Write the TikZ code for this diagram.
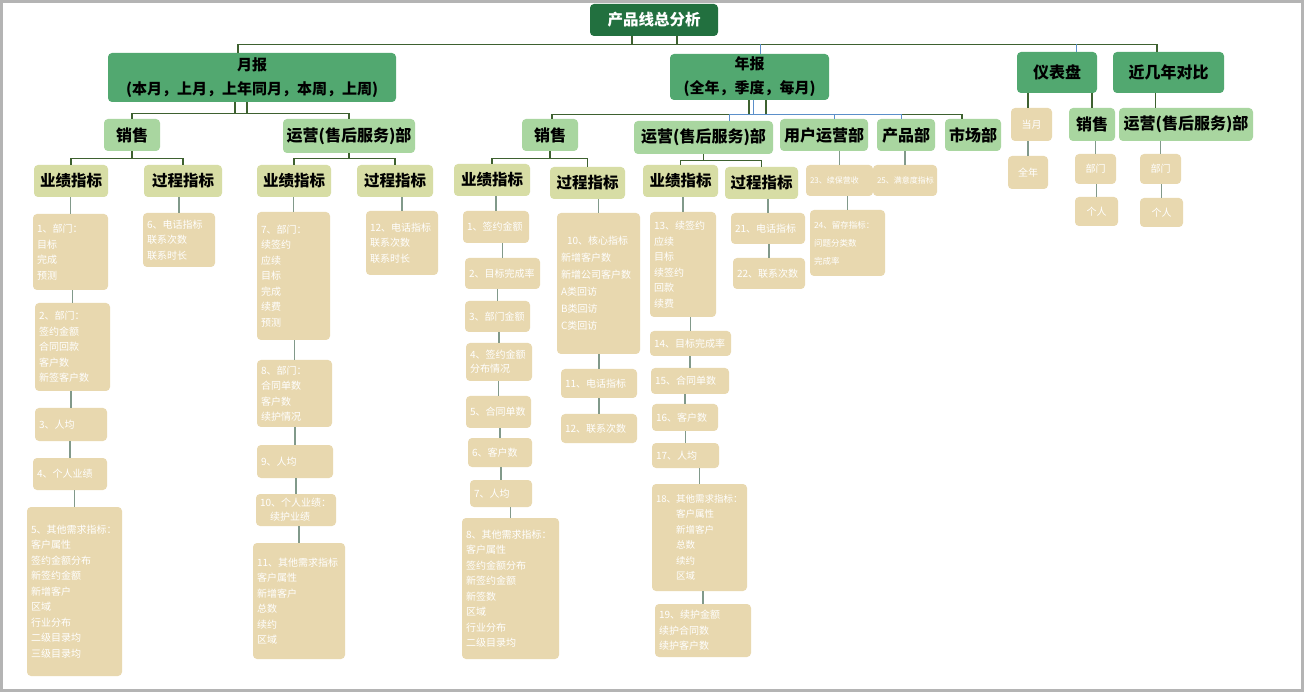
\documentclass[tikz,border=0pt]{standalone}
\usepackage{fontspec}
\setmainfont{Noto Sans CJK SC}
\usetikzlibrary{calc}
\definecolor{rootc}{HTML}{22703F}
\definecolor{l1c}{HTML}{52A870}
\definecolor{l2c}{HTML}{A9D6A0}
\definecolor{l3c}{HTML}{D7DDA5}
\definecolor{leafc}{HTML}{E8D8AF}
\definecolor{treec}{HTML}{3E6130}
\definecolor{chainc}{HTML}{81998A}
\definecolor{bluec}{HTML}{5B8FC9}
\definecolor{framec}{HTML}{B4B4B4}
\tikzset{
  basebox/.style={rectangle, rounded corners=4pt, inner sep=0pt, align=center},
  rootbox/.style={basebox, fill=rootc, text=white, font=\bfseries\fontsize{15.5}{18}\selectfont},
  l1box/.style={basebox, fill=l1c, text=black, font=\bfseries\fontsize{15}{24}\selectfont},
  l2box/.style={basebox, fill=l2c, text=black, font=\bfseries\fontsize{16}{18}\selectfont},
  l3box/.style={basebox, fill=l3c, text=black, font=\bfseries\fontsize{15.5}{18}\selectfont},
  leaf/.style={rectangle, rounded corners=4pt, fill=leafc, text=white, align=left,
    inner xsep=4pt, inner ysep=2pt, font=\fontsize{10}{15.5}\selectfont},
  smallleaf/.style={basebox, fill=leafc, text=white, font=\fontsize{10}{12}\selectfont},
  tree/.style={draw=treec, line width=1.2pt},
  bluetree/.style={draw=bluec, line width=1pt},
  chain/.style={draw=chainc, line width=1.8pt}
}
\newcommand\bx[7]{\node[#2, minimum width={#5-#3}, minimum height={#6-#4}] (#1) at ({(#3+#5)/2},{(#4+#6)/2}) {#7};}
\newcommand\lf[7]{\pgfmathsetmacro\lfw{#4-#2-8}\node[leaf, #7, text width=\lfw pt, minimum height={#5-#3}] (#1) at ({(#2+#4)/2},{(#3+#5)/2}) {#6};}
\begin{document}
\begin{tikzpicture}[x=1pt, y=-1pt]
\useasboundingbox (0,0) rectangle (1304,692);
\draw[framec, fill=white, line width=3pt] (1.5,1.5) rectangle (1302.5,690.5);

% root and level 1
\bx{root}{rootbox}{590}{4}{718}{36}{产品线总分析}
\bx{mon}{l1box}{108}{53}{396}{102}{月报\\(本月，上月，上年同月，本周，上周)}
\bx{yr}{l1box}{670}{54}{829}{100}{年报\\(全年，季度，每月)}
\bx{dash}{l1box}{1017}{52}{1097}{93}{\fontsize{16}{18}\selectfont 仪表盘}
\bx{cmp}{l1box}{1113}{52}{1224}{93}{\fontsize{16}{18}\selectfont 近几年对比}

% level 2
\bx{msales}{l2box}{104}{119}{160}{151}{销售}
\bx{mops}{l2box}{283}{119}{415}{153}{运营(售后服务)部}
\bx{ysales}{l2box}{522}{119}{578}{151}{销售}
\bx{yops}{l2box}{634}{121}{773}{154}{运营(售后服务)部}
\bx{yuser}{l2box}{780}{119}{868}{151}{用户运营部}
\bx{yprod}{l2box}{877}{119}{935}{151}{产品部}
\bx{ymkt}{l2box}{945}{119}{1001}{151}{市场部}
\bx{dsales}{l2box}{1069}{108}{1115}{141}{销售}
\bx{dops}{l2box}{1119}{108}{1253}{141}{运营(售后服务)部}

% level 3
\bx{ms1}{l3box}{34}{165}{108}{197}{业绩指标}
\bx{ms2}{l3box}{144}{165}{222}{197}{过程指标}
\bx{mo1}{l3box}{257}{165}{331}{197}{业绩指标}
\bx{mo2}{l3box}{357}{165}{433}{197}{过程指标}
\bx{ys1}{l3box}{454}{164}{530}{196}{业绩指标}
\bx{ys2}{l3box}{550}{167}{625}{199}{过程指标}
\bx{yo1}{l3box}{643}{165}{718}{197}{业绩指标}
\bx{yo2}{l3box}{725}{167}{798}{199}{过程指标}

% leaves: month / sales
\lf{a1}{33}{214}{108}{290}{1、部门：\\目标\\完成\\预测}{}
\lf{a2}{35}{303}{110}{391}{2、部门：\\签约金额\\合同回款\\客户数\\新签客户数}{}
\lf{a3}{35}{408}{107}{441}{3、人均}{}
\lf{a4}{33}{458}{107}{490}{4、个人业绩}{}
\lf{a5}{27}{507}{122}{676}{5、其他需求指标：\\客户属性\\签约金额分布\\新签约金额\\新增客户\\区域\\行业分布\\二级目录均\\三级目录均}{}
\lf{a6}{143}{213}{215}{267}{6、电话指标\\联系次数\\联系时长}{}
% month / ops
\lf{b7}{257}{212}{330}{340}{7、部门：\\续签约\\应续\\目标\\完成\\续费\\预测}{}
\lf{b8}{257}{360}{332}{427}{8、部门：\\合同单数\\客户数\\续护情况}{}
\lf{b9}{257}{445}{333}{478}{9、人均}{}
\lf{b10}{256}{494}{336}{526}{10、个人业绩：\\\hspace*{10pt}续护业绩}{font=\fontsize{10}{14}\selectfont}
\lf{b11}{253}{543}{345}{659}{11、其他需求指标\\客户属性\\新增客户\\总数\\续约\\区域}{}
\lf{b12}{366}{211}{438}{275}{12、电话指标\\联系次数\\联系时长}{}
% year / sales
\lf{c1}{463}{211}{529}{243}{1、签约金额}{}
\lf{c2}{465}{258}{540}{289}{2、目标完成率}{}
\lf{c3}{465}{301}{530}{332}{3、部门金额}{}
\lf{c4}{466}{343}{532}{381}{4、签约金额\\分布情况}{font=\fontsize{10}{14}\selectfont}
\lf{c5}{466}{396}{531}{428}{5、合同单数}{}
\lf{c6}{468}{438}{532}{467}{6、客户数}{}
\lf{c7}{470}{480}{532}{507}{7、人均}{}
\lf{c8}{462}{518}{559}{659}{8、其他需求指标：\\客户属性\\签约金额分布\\新签约金额\\新签数\\区域\\行业分布\\二级目录均}{}
\lf{c10}{557}{213}{640}{354}{\hspace*{6pt}10、核心指标\\新增客户数\\新增公司客户数\\A类回访\\B类回访\\C类回访}{font=\fontsize{10}{17}\selectfont}
\lf{c11}{561}{369}{637}{398}{11、电话指标}{}
\lf{c12}{561}{414}{637}{443}{12、联系次数}{}
% year / ops
\lf{d13}{650}{212}{716}{317}{13、续签约\\应续\\目标\\续签约\\回款\\续费}{}
\lf{d14}{650}{331}{731}{356}{14、目标完成率}{}
\lf{d15}{651}{368}{729}{394}{15、合同单数}{}
\lf{d16}{652}{404}{718}{431}{16、客户数}{}
\lf{d17}{652}{443}{719}{468}{17、人均}{}
\lf{d18}{652}{484}{747}{591}{18、其他需求指标：\\\hspace*{20pt}客户属性\\\hspace*{20pt}新增客户\\\hspace*{20pt}总数\\\hspace*{20pt}续约\\\hspace*{20pt}区域}{font=\fontsize{9.5}{15.5}\selectfont}
\lf{d19}{655}{604}{751}{657}{19、续护金额\\续护合同数\\续护客户数}{}
\lf{d21}{731}{213}{805}{244}{21、电话指标}{}
\lf{d22}{733}{258}{805}{289}{22、联系次数}{}
% user ops / product
\lf{e23}{806}{165}{873}{196}{23、续保营收}{font=\fontsize{8}{12}\selectfont}
\lf{e24}{810}{210}{885}{276}{24、留存指标：\\问题分类数\\完成率}{font=\fontsize{8.5}{18}\selectfont}
\lf{e25}{873}{165}{937}{196}{25、满意度指标}{font=\fontsize{8}{12}\selectfont}
% dashboard
\bx{f1}{smallleaf}{1011}{108}{1052}{141}{当月}
\bx{f2}{smallleaf}{1008}{156}{1048}{189}{全年}
\bx{g1}{smallleaf}{1075}{154}{1116}{184}{部门}
\bx{g2}{smallleaf}{1075}{197}{1118}{226}{个人}
\bx{h1}{smallleaf}{1140}{154}{1181}{184}{部门}
\bx{h2}{smallleaf}{1140}{198}{1183}{227}{个人}

% tree connectors: root -> level 1
\path (root.south) ++(0,8) coordinate (r0);
\draw[tree] ([xshift=-22pt]root.south) -- ([xshift=-22pt]r0);
\draw[tree] ([xshift=23pt]root.south) -- ([xshift=23pt]r0);
\draw[tree] ([xshift=-14pt]mon.north) |- ([xshift=-11.5pt]cmp.north |- r0) -- ([xshift=-11.5pt]cmp.north);
\draw[bluetree] ([xshift=10.5pt]yr.north) -- ([xshift=10.5pt]yr.north |- r0);
\draw[bluetree] ([xshift=19pt]dash.north) -- ([xshift=19pt]dash.north |- r0);
% month -> level 2
\path (mon.south) ++(0,11) coordinate (m0);
\draw[tree] ([xshift=-17pt]mon.south) -- ([xshift=-17pt]m0);
\draw[tree] ([xshift=-5pt]mon.south) -- ([xshift=-5pt]m0);
\draw[tree] (msales.north) |- (mops.north |- m0) -- (mops.north);
% year -> level 2
\path (yr.south) ++(0,14) coordinate (y0);
\draw[tree] ([xshift=-0.5pt]yr.south) -- ([xshift=-0.5pt]y0);
\draw[tree] ([xshift=16.5pt]yr.south) -- ([xshift=16.5pt]y0);
\draw[tree] ([xshift=2pt]ysales.north) |- ([xshift=-11pt]ymkt.north |- y0) -- ([xshift=-11pt]ymkt.north);
\draw[bluetree] ([xshift=3.5pt]yr.south) -- ([xshift=3.5pt]y0);
\draw[bluetree] ([xshift=25.5pt]yops.north) |- ([xshift=-5pt]yprod.north |- y0) -- ([xshift=-5pt]yprod.north);
\draw[bluetree] ([xshift=10pt]yuser.north) -- ([xshift=10pt]yuser.north |- y0);
% level 2 -> level 3
\draw[tree] (msales.south) -- ++(0,7) coordinate (ms0);
\foreach \n in {ms1,ms2} \draw[tree] (ms0) -| (\n.north);
\draw[tree] (mops.south) -- ++(0,5) coordinate (mo0);
\foreach \n in {mo1,mo2} \draw[tree] (mo0) -| (\n.north);
\draw[tree] (ysales.south) -- ++(0,7) coordinate (ys0);
\foreach \n in {ys1,ys2} \draw[tree] (ys0) -| (\n.north);
\draw[tree] (yops.south) -- ++(0,6) coordinate (yo0);
\foreach \n in {yo1,yo2} \draw[tree] (yo0) -| (\n.north);
% dashboard / comparison
\draw[tree] ([xshift=-3.5pt]f1.north) -- ([xshift=-3.5pt]f1.north |- dash.south);
\draw[tree] (dsales.north) -- (dsales.north |- dash.south);
\draw[tree] ([xshift=-13pt]cmp.south) -- ([xshift=-13pt]cmp.south |- dops.north);

% chains
\foreach \a/\b in {ms1/a1,a1/a2,a2/a3,a3/a4,a4/a5,ms2/a6,
  mo1/b7,b7/b8,b8/b9,b9/b10,b10/b11,mo2/b12,
  ys1/c1,c1/c2,c2/c3,c3/c4,c4/c5,c5/c6,c6/c7,c7/c8,ys2/c10,c10/c11,c11/c12,
  yo1/d13,d13/d14,d14/d15,d15/d16,d16/d17,d17/d18,d18/d19,yo2/d21,d21/d22,
  yuser/e23,e23/e24,yprod/e25,
  f1/f2,dsales/g1,g1/g2,dops/h1,h1/h2}
  \draw[chain] (\b.north) -- (\b.north |- \a.south);
\end{tikzpicture}
\end{document}
